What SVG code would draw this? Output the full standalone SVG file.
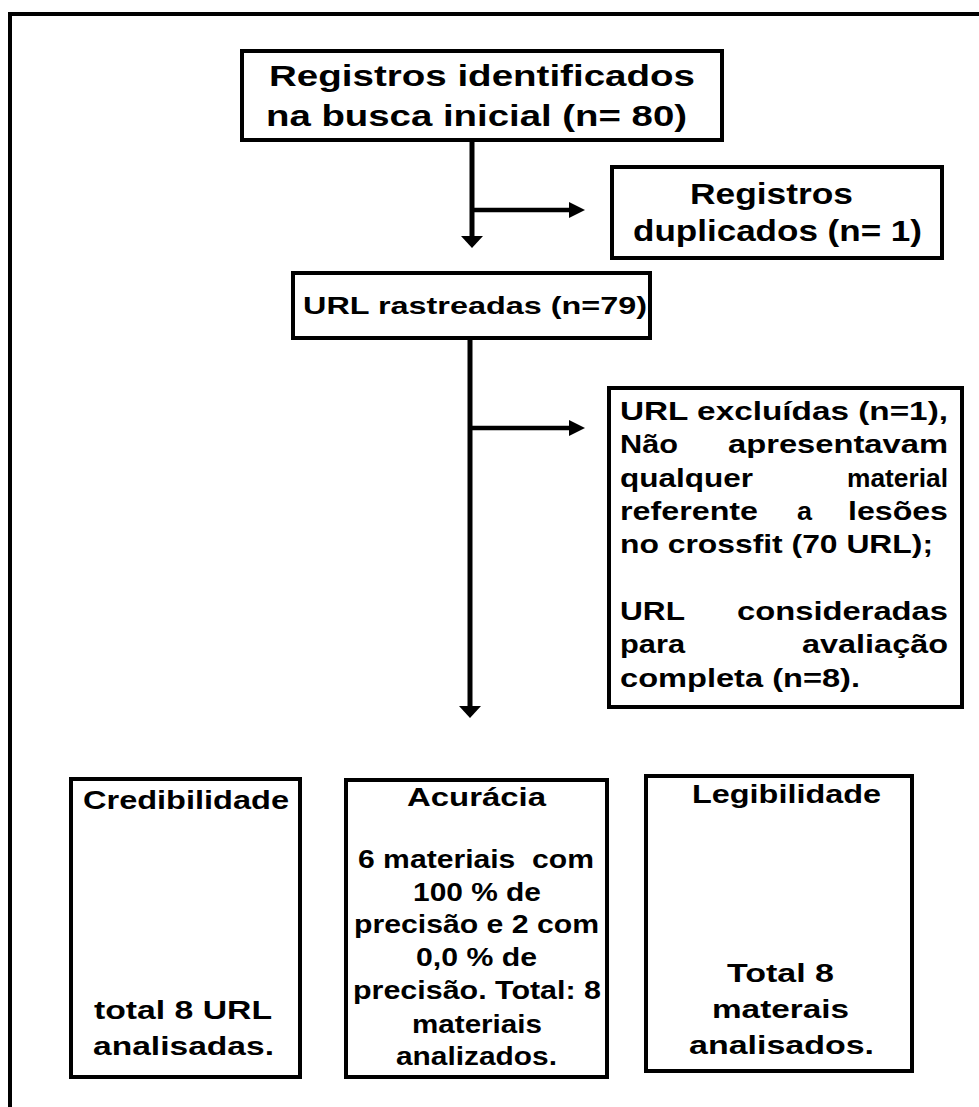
<svg xmlns="http://www.w3.org/2000/svg" width="979" height="1107" viewBox="0 0 979 1107">
<style>
.box{fill:#fff;stroke:#000;stroke-width:4}
.t{font-family:"Liberation Sans",Arial,sans-serif;font-weight:bold;fill:#000}
.t29{font-size:29px}
.t25{font-size:25px}
.t24{font-size:24px}
.conn{fill:none;stroke:#000}
</style>
<defs>
<marker id="arrV" markerUnits="userSpaceOnUse" viewBox="0 0 12 22" markerWidth="12" markerHeight="22" refX="1" refY="11" orient="auto"><path d="M0,0 L12,11 L0,22 Z" fill="#000"/></marker>
<marker id="arrH" markerUnits="userSpaceOnUse" viewBox="0 0 16 16" markerWidth="16" markerHeight="16" refX="1" refY="8" orient="auto"><path d="M0,0 L16,8 L0,16 Z" fill="#000"/></marker>
</defs>
<rect width="979" height="1107" fill="#fff"/>
<g id="frame"><path d="M10,1107 V14 H979" fill="none" stroke="#000" stroke-width="4"/></g>
<g id="connectors">
<path class="conn" d="M472,140 V237" stroke-width="5" marker-end="url(#arrV)"/>
<path class="conn" d="M472,210 H570" stroke-width="4.5" marker-end="url(#arrH)"/>
<path class="conn" d="M470,338 V707" stroke-width="5" marker-end="url(#arrV)"/>
<path class="conn" d="M470,428 H570" stroke-width="4.5" marker-end="url(#arrH)"/>
</g>
<g id="n_registros">
<rect class="box" x="242" y="51" width="480" height="89"/>
<text class="t t29" x="269" y="86" textLength="426" lengthAdjust="spacingAndGlyphs">Registros identificados</text>
<text class="t t29" x="266" y="126" textLength="421" lengthAdjust="spacingAndGlyphs">na busca inicial (n= 80)</text>
</g>
<g id="n_duplicados">
<rect class="box" x="612" y="167" width="330" height="91"/>
<text class="t t29" x="690" y="204" textLength="163" lengthAdjust="spacingAndGlyphs">Registros</text>
<text class="t t29" x="633" y="241" textLength="289" lengthAdjust="spacingAndGlyphs">duplicados (n= 1)</text>
</g>
<g id="n_rastreadas">
<rect class="box" x="293" y="273" width="357" height="65"/>
<text class="t t24" x="303" y="314" textLength="344" lengthAdjust="spacingAndGlyphs">URL rastreadas (n=79)</text>
</g>
<g id="n_excluidas">
<rect class="box" x="609" y="388" width="353" height="319"/>
<text class="t t25" x="620" y="420" textLength="328" lengthAdjust="spacingAndGlyphs">URL excluídas (n=1),</text>
<text class="t t25" x="620" y="453" textLength="58" lengthAdjust="spacingAndGlyphs">Não</text>
<text class="t t25" x="728" y="453" textLength="220" lengthAdjust="spacingAndGlyphs">apresentavam</text>
<text class="t t25" x="620" y="487" textLength="133" lengthAdjust="spacingAndGlyphs">qualquer</text>
<text class="t t25" x="847" y="487" textLength="101" lengthAdjust="spacingAndGlyphs">material</text>
<text class="t t25" x="620" y="520" textLength="138" lengthAdjust="spacingAndGlyphs">referente</text>
<text class="t t25" x="797" y="520" textLength="15" lengthAdjust="spacingAndGlyphs">a</text>
<text class="t t25" x="848" y="520" textLength="100" lengthAdjust="spacingAndGlyphs">lesões</text>
<text class="t t25" x="620" y="553" textLength="313" lengthAdjust="spacingAndGlyphs">no crossfit (70 URL);</text>
<text class="t t25" x="620" y="620" textLength="65" lengthAdjust="spacingAndGlyphs">URL</text>
<text class="t t25" x="737" y="620" textLength="211" lengthAdjust="spacingAndGlyphs">consideradas</text>
<text class="t t25" x="620" y="653" textLength="65" lengthAdjust="spacingAndGlyphs">para</text>
<text class="t t25" x="802" y="653" textLength="146" lengthAdjust="spacingAndGlyphs">avaliação</text>
<text class="t t25" x="620" y="687" textLength="240" lengthAdjust="spacingAndGlyphs">completa (n=8).</text>
</g>
<g id="n_credibilidade">
<rect class="box" x="71" y="779" width="229" height="298"/>
<text class="t t25" x="83" y="809" textLength="206" lengthAdjust="spacingAndGlyphs">Credibilidade</text>
<text class="t t25" x="94" y="1019" textLength="178" lengthAdjust="spacingAndGlyphs">total 8 URL</text>
<text class="t t25" x="93" y="1055" textLength="181" lengthAdjust="spacingAndGlyphs">analisadas.</text>
</g>
<g id="n_acuracia">
<rect class="box" x="346" y="780" width="261" height="297"/>
<text class="t t25" x="407" y="806" textLength="139" lengthAdjust="spacingAndGlyphs">Acurácia</text>
<text class="t t25" x="358" y="868" textLength="236" lengthAdjust="spacingAndGlyphs" xml:space="preserve">6 materiais  com</text>
<text class="t t25" x="413" y="901" textLength="128" lengthAdjust="spacingAndGlyphs">100 % de</text>
<text class="t t25" x="354" y="933" textLength="245" lengthAdjust="spacingAndGlyphs">precisão e 2 com</text>
<text class="t t25" x="416" y="966" textLength="121" lengthAdjust="spacingAndGlyphs">0,0 % de</text>
<text class="t t25" x="353" y="999" textLength="248" lengthAdjust="spacingAndGlyphs">precisão. Total: 8</text>
<text class="t t25" x="412" y="1033" textLength="130" lengthAdjust="spacingAndGlyphs">materiais</text>
<text class="t t25" x="396" y="1065" textLength="161" lengthAdjust="spacingAndGlyphs">analizados.</text>
</g>
<g id="n_legibilidade">
<rect class="box" x="646" y="776" width="266" height="295"/>
<text class="t t25" x="692" y="803" textLength="189" lengthAdjust="spacingAndGlyphs">Legibilidade</text>
<text class="t t25" x="727" y="982" textLength="107" lengthAdjust="spacingAndGlyphs">Total 8</text>
<text class="t t25" x="712" y="1018" textLength="137" lengthAdjust="spacingAndGlyphs">materais</text>
<text class="t t25" x="689" y="1054" textLength="185" lengthAdjust="spacingAndGlyphs">analisados.</text>
</g>
</svg>
